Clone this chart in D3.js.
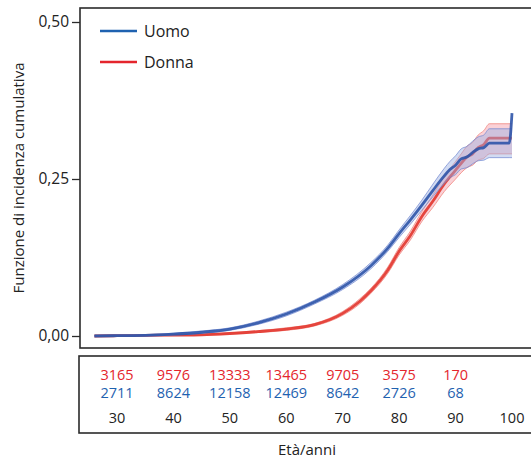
<!DOCTYPE html>
<html><head><meta charset="utf-8">
<script src="https://cdn.jsdelivr.net/npm/d3@7"></script>
<style>body{margin:0;background:#fff}svg{display:block}text{font-family:"Open Sans","Noto Sans",sans-serif}</style>
</head><body><svg id="c" width="531" height="459"></svg>
<script>
const uomoAges = [26,30,35,40,45,50,55,60,65,70,75,78,80,82,84,86,88,89,90,91,92,93,94,95,96,99.5,100];
const uomoVals = [0,0.0005,0.001,0.003,0.006,0.011,0.021,0.035,0.054,0.078,0.112,0.140,0.163,0.185,0.208,0.232,0.255,0.265,0.272,0.282,0.285,0.292,0.298,0.300,0.307,0.307,0.355];
const uomoLow  = [0,0,0,0.0015,0.004,0.009,0.0185,0.032,0.051,0.074,0.107,0.135,0.157,0.178,0.200,0.222,0.243,0.252,0.257,0.266,0.268,0.274,0.279,0.280,0.284,0.284,0.284];
const uomoHigh = [0.001,0.0015,0.002,0.0045,0.008,0.013,0.0235,0.038,0.057,0.082,0.117,0.145,0.169,0.192,0.216,0.242,0.267,0.278,0.287,0.298,0.302,0.310,0.317,0.320,0.330,0.330,0.330];

const donnaAges = [26,30,35,40,45,50,55,60,65,70,73,75,78,80,82,84,86,88,90,91,92,93,94,95,96,100];
const donnaVals = [0,0.0005,0.001,0.0015,0.002,0.004,0.007,0.011,0.018,0.036,0.055,0.072,0.105,0.135,0.160,0.190,0.215,0.242,0.264,0.275,0.285,0.290,0.300,0.305,0.315,0.315];
const donnaLow  = [0,0,0,0.0005,0.001,0.003,0.0055,0.009,0.016,0.033,0.051,0.068,0.100,0.129,0.153,0.182,0.205,0.230,0.250,0.260,0.268,0.272,0.280,0.283,0.290,0.290];
const donnaHigh = [0.001,0.0015,0.002,0.0025,0.003,0.005,0.0085,0.013,0.020,0.039,0.059,0.076,0.110,0.141,0.167,0.198,0.225,0.254,0.278,0.290,0.302,0.308,0.320,0.327,0.338,0.338];

const xTicks = [30,40,50,60,70,80,90,100];
const donnaAtRisk = ["3165","9576","13333","13465","9705","3575","170",""];
const uomoAtRisk  = ["2711","8624","12158","12469","8642","2726","68",""];
const yTicks = [0, 0.25, 0.5];
const seriesNames = ["Uomo","Donna"];

const svg = d3.select("#c");
const x = d3.scaleLinear().domain([30,100]).range([117,512]);
const y = d3.scaleLinear().domain([0,0.5]).range([336,22]);

const BLUE = "#2d54a8", RED = "#e2362d";
const BLUE_L = "#1f62b0", RED_L = "#e4252c";

// plot box
svg.append("rect").attr("x",80).attr("y",8).attr("width",470).attr("height",340)
  .attr("fill","none").attr("stroke","#2b2b2b").attr("stroke-width",1.6);
// table box
svg.append("rect").attr("x",79).attr("y",356).attr("width",470).attr("height",77)
  .attr("fill","none").attr("stroke","#2b2b2b").attr("stroke-width",1.6);

// y axis
const yAxis = d3.axisLeft(y).tickValues(yTicks).tickSize(8).tickPadding(3)
  .tickFormat(d => d3.format(".2f")(d).replace(".", ","));
const ga = svg.append("g").attr("transform","translate(80,0)").call(yAxis);
ga.select(".domain").remove();
ga.selectAll(".tick line").attr("stroke","#2b2b2b").attr("stroke-width",1.3);
ga.selectAll(".tick text").attr("font-size",15.5).attr("fill","#222").attr("font-family","'Open Sans',sans-serif");

svg.append("text").attr("transform","translate(24,178) rotate(-90)")
  .attr("text-anchor","middle").attr("font-size",15).attr("fill","#222")
  .text("Funzione di incidenza cumulativa");

function drawSeries(ages, vals, lo, hi, color, bandColor, edgeColor){
  const idx = d3.range(ages.length);
  const area = d3.area().x(i=>x(ages[i])).y0(i=>y(lo[i])).y1(i=>y(hi[i])).curve(d3.curveMonotoneX);
  svg.append("path").attr("d",area(idx)).attr("fill",bandColor).attr("opacity",0.45);
  const lLo = d3.line().x(i=>x(ages[i])).y(i=>y(lo[i])).curve(d3.curveMonotoneX);
  const lHi = d3.line().x(i=>x(ages[i])).y(i=>y(hi[i])).curve(d3.curveMonotoneX);
  svg.append("path").attr("d",lLo(idx)).attr("fill","none").attr("stroke",edgeColor).attr("stroke-width",1).attr("opacity",0.7);
  svg.append("path").attr("d",lHi(idx)).attr("fill","none").attr("stroke",edgeColor).attr("stroke-width",1).attr("opacity",0.7);
  const line = d3.line().x(i=>x(ages[i])).y(i=>y(vals[i])).curve(d3.curveMonotoneX);
  svg.append("path").attr("d",line(idx)).attr("fill","none").attr("stroke",color).attr("stroke-width",2.8).attr("opacity",0.9);
}
drawSeries(donnaAges, donnaVals, donnaLow, donnaHigh, RED, "#f49aa6", "#f07a70");
drawSeries(uomoAges, uomoVals, uomoLow, uomoHigh, BLUE, "#9cb0e2", "#6f86d0");

// legend
const leg = [{name:seriesNames[0], c:BLUE_L, yy:31},{name:seriesNames[1], c:RED_L, yy:62}];
leg.forEach(l=>{
  svg.append("line").attr("x1",100).attr("x2",137).attr("y1",l.yy).attr("y2",l.yy).attr("stroke",l.c).attr("stroke-width",2.5);
  svg.append("text").attr("x",144).attr("y",l.yy+6).attr("font-size",16).attr("fill","#222").text(l.name);
});

// at-risk table
xTicks.forEach((t,i)=>{
  svg.append("text").attr("x",x(t)).attr("y",379.5).attr("text-anchor","middle").attr("font-size",14.5).attr("font-family","Lato,sans-serif").attr("fill",RED_L).text(donnaAtRisk[i]);
  svg.append("text").attr("x",x(t)).attr("y",397.5).attr("text-anchor","middle").attr("font-size",14.5).attr("font-family","Lato,sans-serif").attr("fill",BLUE_L).text(uomoAtRisk[i]);
  svg.append("text").attr("x",x(t)).attr("y",423).attr("text-anchor","middle").attr("font-size",14.5).attr("fill","#222").text(t);
});
svg.append("text").attr("x",307).attr("y",455).attr("text-anchor","middle").attr("font-size",15).attr("fill","#222").text("Età/anni");
</script></body></html>
